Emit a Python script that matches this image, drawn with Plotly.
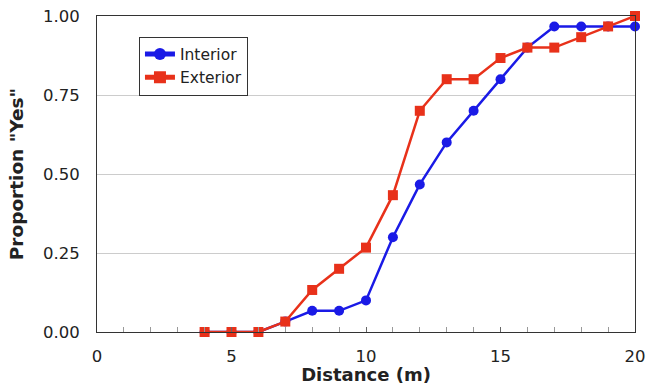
import plotly.graph_objects as go

distance = [4, 5, 6, 7, 8, 9, 10, 11, 12, 13, 14, 15, 16, 17, 18, 19, 20]
interior = [0.0, 0.0, 0.0, 0.033, 0.067, 0.067, 0.10, 0.30, 0.467, 0.60, 0.70, 0.80, 0.90, 0.967, 0.967, 0.967, 0.967]
exterior = [0.0, 0.0, 0.0, 0.033, 0.133, 0.20, 0.267, 0.433, 0.70, 0.80, 0.80, 0.867, 0.90, 0.90, 0.933, 0.967, 1.0]
y_ticks = [0, 0.25, 0.5, 0.75, 1.0]
y_tick_labels = ["0.00", "0.25", "0.50", "0.75", "1.00"]

fig = go.Figure()
fig.add_trace(go.Scatter(x=distance, y=interior, name="Interior", mode="lines+markers",
                         line=dict(color="#1a1ae6", width=2.5),
                         marker=dict(symbol="circle", size=10, color="#1a1ae6"),
                         cliponaxis=False))
fig.add_trace(go.Scatter(x=distance, y=exterior, name="Exterior", mode="lines+markers",
                         line=dict(color="#e8311a", width=2.5),
                         marker=dict(symbol="square", size=10, color="#e8311a"),
                         cliponaxis=False))

font = "DejaVu Sans, Verdana, sans-serif"
fig.update_layout(
    width=648, height=385,
    margin=dict(l=97, r=13, t=16, b=53),
    paper_bgcolor="white", plot_bgcolor="white",
    font=dict(family=font, size=16.5, color="#222"),
    showlegend=True,
    legend=dict(x=0.078, y=0.935, xanchor="left", yanchor="top",
                bordercolor="#333", borderwidth=1, bgcolor="white",
                font=dict(size=15.5), tracegroupgap=0, itemsizing="constant"),
    xaxis=dict(range=[0, 20], tickvals=[0, 5, 10, 15, 20], showgrid=False, automargin=False,
               zeroline=False, showline=True, linecolor="#333", linewidth=1, mirror=True,
               ticks="inside", ticklen=5, tickcolor="#666", ticklabelstandoff=9,
               ticklabeloverflow="allow",
               minor=dict(dtick=1, ticks="inside", ticklen=5, tickcolor="#999"),
               title=dict(text="<b>Distance (m)</b>", font=dict(size=18), standoff=1)),
    yaxis=dict(range=[0, 1], tickvals=y_ticks, ticktext=y_tick_labels, automargin=False,
               showgrid=True, gridcolor="#cccccc", gridwidth=1,
               zeroline=False, showline=True, linecolor="#333", linewidth=1, mirror=True,
               ticks="", ticklabelstandoff=13, ticklabeloverflow="allow",
               title=dict(text="<b>Proportion \"Yes\"</b>", font=dict(size=18.5), standoff=14)),
)

fig.write_html("out.html",
               config={"displayModeBar": False, "staticPlot": True},
               post_script="document.body.style.margin='0';document.body.style.overflow='hidden';")
